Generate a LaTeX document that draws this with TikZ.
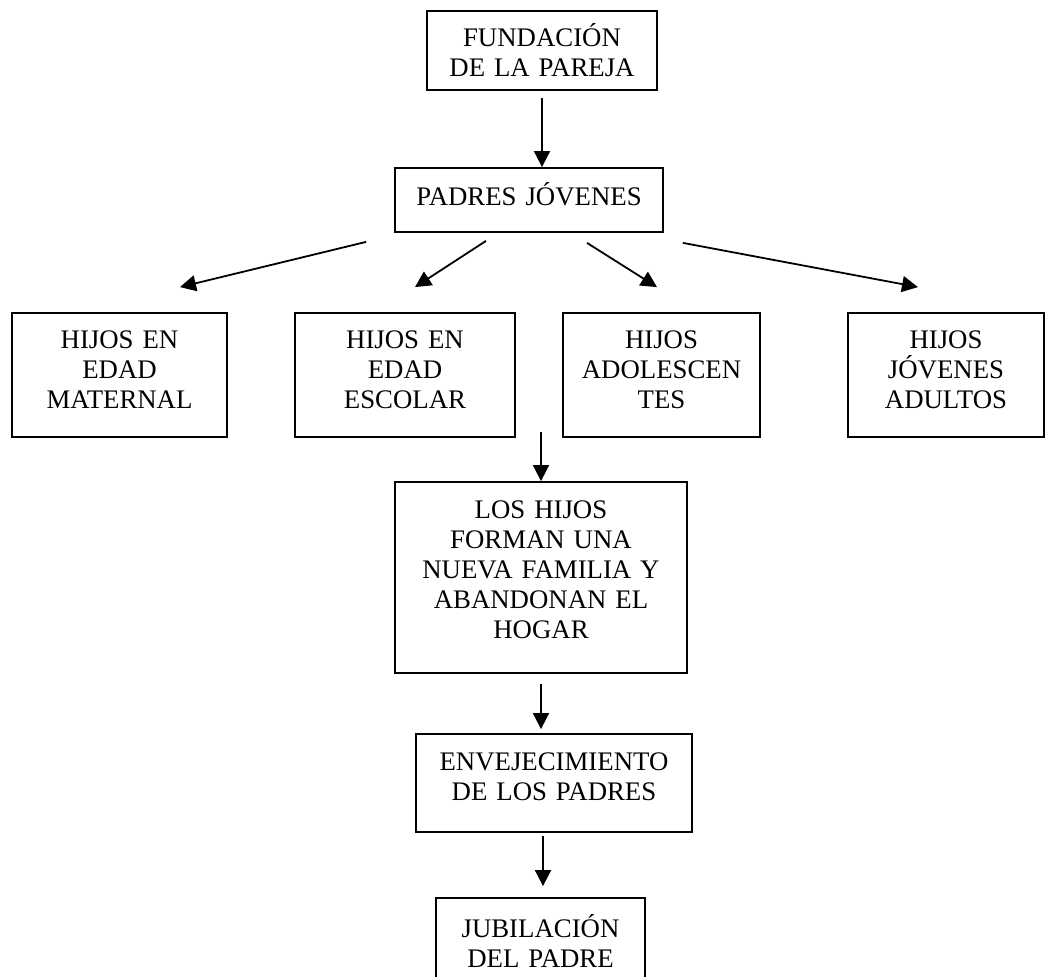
\documentclass[tikz,border=0pt]{standalone}
\usepackage{fontspec}
\setmainfont{Liberation Serif}
\usetikzlibrary{arrows.meta}

\begin{document}
\begin{tikzpicture}[
	x=0.5pt,
	y=-0.5pt,
	font=\fontsize{13.4}{15}\selectfont,
	etapa/.style={
		draw=black,
		line width=0.9pt,
		align=center,
		inner sep=0pt
	},
	hijos/.style={
		etapa,
		minimum height=62pt,
		text depth=35pt
	},
	flecha/.style={
		draw,
		line width=0.9pt,
		-{Triangle[length=8pt,width=8pt]}
	}
	]
	
	\useasboundingbox (0,0) rectangle (1049,977);
	
	\node[etapa, minimum width=115pt, minimum height=39.5pt, text width=115pt, text depth=15pt]
	(fundacion) at (542,50.5) {FUNDACIÓN\\DE LA PAREJA};
	\node[etapa, minimum width=134pt, minimum height=32pt, text width=134pt, text depth=5.6pt]
	(padres) at (529,200) {PADRES JÓVENES};
	
	\node[hijos, minimum width=107.5pt, text width=107.5pt] (maternal) at (119.5,375)
	{HIJOS EN\\EDAD\\MATERNAL};
	\node[hijos, minimum width=110pt, text width=110pt] (escolar) at (405,375)
	{HIJOS EN\\EDAD\\ESCOLAR};
	\node[hijos, minimum width=98.5pt, text width=98.5pt] (adolescentes) at (661.5,375)
	{HIJOS\\ADOLESCEN\\TES};
	\node[hijos, minimum width=98pt, text width=98pt] (adultos) at (946,375)
	{HIJOS\\JÓVENES\\ADULTOS};
	
	\node[etapa, minimum width=146pt, minimum height=95.5pt, text width=146pt, text depth=67.5pt]
	(loshijos) at (541,577.5) {LOS HIJOS\\FORMAN UNA\\NUEVA FAMILIA Y\\ABANDONAN EL\\HOGAR};
	\node[etapa, minimum width=138pt, minimum height=49pt, text width=138pt, text depth=21.5pt]
	(envejecimiento) at (554,783) {ENVEJECIMIENTO\\DE LOS PADRES};
	\node[etapa, minimum width=104.5pt, minimum height=49.5pt, text width=104.5pt, text depth=21.5pt]
	(jubilacion) at (540.5,947.5) {JUBILACIÓN\\DEL PADRE};
	
	% flechas
	\draw[flecha] ([yshift=-3.5pt]fundacion.south) -- (fundacion.south |- padres.north);
	\draw[flecha] ([xshift=-14pt,yshift=-4.5pt]padres.south west) -- ([xshift=30.25pt,yshift=12.5pt]maternal.north);
	\draw[flecha] ([xshift=-21.5pt,yshift=-4pt]padres.south) -- ([xshift=5pt,yshift=12.5pt]escolar.north);
	\draw[flecha] ([xshift=29pt,yshift=-5pt]padres.south) -- ([xshift=-2.25pt,yshift=12.5pt]adolescentes.north);
	\draw[flecha] ([xshift=9.5pt,yshift=-5pt]padres.south east) -- ([xshift=-14pt,yshift=12.5pt]adultos.north);
	\draw[flecha] ([yshift=24.5pt]loshijos.north) -- (loshijos.north);
	\draw[flecha] ([yshift=-5pt]loshijos.south) -- ([yshift=2pt]loshijos.south |- envejecimiento.north);
	\draw[flecha] ([xshift=-5.5pt,yshift=-1.5pt]envejecimiento.south) -- ([xshift=1.25pt,yshift=5.5pt]jubilacion.north);
	
\end{tikzpicture}
\end{document}
